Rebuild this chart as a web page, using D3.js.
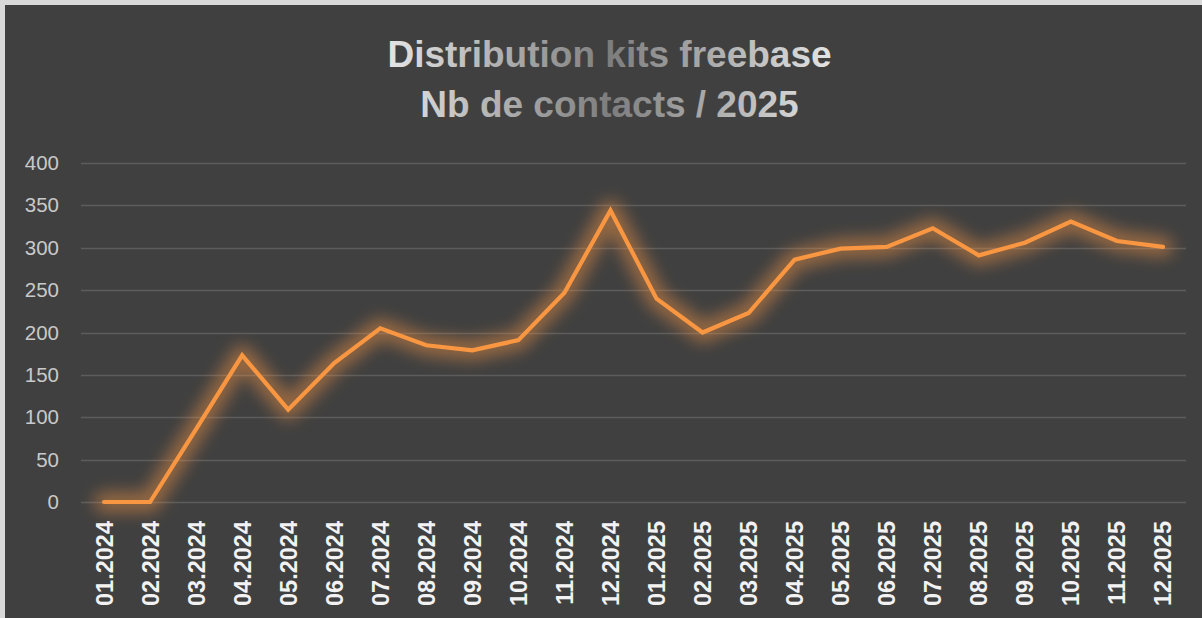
<!DOCTYPE html>
<html>
<head>
<meta charset="utf-8">
<script src="https://cdn.jsdelivr.net/npm/d3@7"></script>
<style>
  body { margin: 0; background: #d9d9d9; }
  svg { display: block; }
</style>
</head>
<body>
<svg id="chart" width="1202" height="618"></svg>
<script>
var months = ["01.2024", "02.2024", "03.2024", "04.2024", "05.2024", "06.2024",
    "07.2024", "08.2024", "09.2024", "10.2024", "11.2024", "12.2024",
    "01.2025", "02.2025", "03.2025", "04.2025", "05.2025", "06.2025",
    "07.2025", "08.2025", "09.2025", "10.2025", "11.2025", "12.2025"];
var contacts = [0, 0, 86, 173, 109, 164, 205, 185, 179, 191, 247, 344,
    240, 200, 223, 286, 299, 301, 323, 291, 306, 331, 308, 301];
var yTicks = [0, 50, 100, 150, 200, 250, 300, 350, 400];
var titleLines = ["Distribution kits freebase", "Nb de contacts / 2025"];

function drawChart() {
    var svg = d3.select("#chart"),
        width = +svg.attr("width"),
        height = +svg.attr("height");

    var margin = {left: 81, right: 16, top: 163, bottom: 116};

    // chart area background
    svg.append("rect")
        .attr("x", 5)
        .attr("y", 5)
        .attr("width", width - 5)
        .attr("height", height - 5)
        .attr("fill", "#404040");

    var defs = svg.append("defs");

    var grad = defs.append("linearGradient")
        .attr("id", "titleGrad")
        .attr("gradientUnits", "userSpaceOnUse")
        .attr("x1", 388).attr("x2", 832)
        .attr("y1", 0).attr("y2", 0);
    grad.append("stop").attr("offset", "0%").attr("stop-color", "#e4e4e4");
    grad.append("stop").attr("offset", "50%").attr("stop-color", "#7d7d7d");
    grad.append("stop").attr("offset", "100%").attr("stop-color", "#e4e4e4");

    var glow = defs.append("filter")
        .attr("id", "glow")
        .attr("filterUnits", "userSpaceOnUse")
        .attr("x", 0).attr("y", 0)
        .attr("width", width).attr("height", height);
    glow.append("feGaussianBlur").attr("stdDeviation", 8);

    var x = d3.scaleBand()
        .domain(months)
        .range([margin.left, width - margin.right]);

    var y = d3.scaleLinear()
        .domain([0, 400])
        .range([height - margin.bottom, margin.top]);

    // gridlines
    svg.append("g")
        .selectAll("line")
        .data(yTicks)
        .enter().append("line")
        .attr("x1", margin.left)
        .attr("x2", width - margin.right)
        .attr("y1", function(d) { return Math.round(y(d)) + 0.5; })
        .attr("y2", function(d) { return Math.round(y(d)) + 0.5; })
        .attr("stroke", "#5c5c5c")
        .attr("stroke-width", 1.4);

    // y labels
    svg.append("g")
        .selectAll("text")
        .data(yTicks)
        .enter().append("text")
        .attr("x", 59)
        .attr("y", function(d) { return y(d) + 7; })
        .attr("text-anchor", "end")
        .attr("font-family", "Liberation Sans, Arial, sans-serif")
        .attr("font-size", 20.5)
        .attr("fill", "#c9c9c9")
        .text(function(d) { return d; });

    // x labels
    svg.append("g")
        .selectAll("text")
        .data(months)
        .enter().append("text")
        .attr("transform", function(d) {
            return "translate(" + (x(d) + x.bandwidth() / 2 + 8.5) + ",521) rotate(-90)";
        })
        .attr("text-anchor", "end")
        .attr("font-family", "Liberation Sans, Arial, sans-serif")
        .attr("font-weight", "bold")
        .attr("font-size", 23.5)
        .attr("fill", "#f2f2f2")
        .text(function(d) { return d; });

    var line = d3.line()
        .x(function(d, i) { return x(months[i]) + x.bandwidth() / 2; })
        .y(function(d) { return y(d); });

    // soft glow under the line
    svg.append("path")
        .datum(contacts)
        .attr("d", line)
        .attr("fill", "none")
        .attr("stroke", "#f79646")
        .attr("stroke-width", 20)
        .attr("stroke-opacity", 0.48)
        .attr("stroke-linejoin", "round")
        .attr("stroke-linecap", "round")
        .attr("filter", "url(#glow)");

    svg.append("path")
        .datum(contacts)
        .attr("d", line)
        .attr("fill", "none")
        .attr("stroke", "#f99641")
        .attr("stroke-width", 4.2)
        .attr("stroke-linejoin", "miter")
        .attr("stroke-linecap", "round");

    // title
    svg.append("g")
        .selectAll("text")
        .data(titleLines)
        .enter().append("text")
        .attr("x", 609.5)
        .attr("y", function(d, i) { return 67 + i * 50; })
        .attr("text-anchor", "middle")
        .attr("font-family", "Liberation Sans, Arial, sans-serif")
        .attr("font-weight", "bold")
        .attr("font-size", 37)
        .attr("fill", "url(#titleGrad)")
        .text(function(d) { return d; });
}

drawChart();
</script>
</body>
</html>
